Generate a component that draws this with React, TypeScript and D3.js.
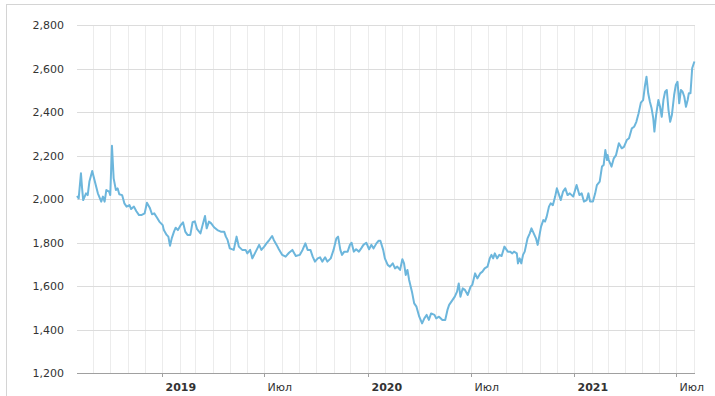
import React from 'react';
import * as d3 from 'd3';

const yTicks = [1200, 1400, 1600, 1800, 2000, 2200, 2400, 2600, 2800];
const tickDates = ['2019-01-01', '2019-07-01', '2020-01-01', '2020-07-01', '2021-01-01', '2021-07-01'];
const tickLabels = ['2019', 'Июл', '2020', 'Июл', '2021', 'Июл'];
const tickBold = [true, false, true, false, true, false];

const dates = [
  '2018-08-03','2018-08-06','2018-08-10','2018-08-12','2018-08-14','2018-08-19','2018-08-22','2018-08-25','2018-08-30',
  '2018-09-03','2018-09-09','2018-09-15','2018-09-18','2018-09-21','2018-09-24','2018-09-29',
  '2018-10-01','2018-10-04','2018-10-07','2018-10-11','2018-10-14','2018-10-17','2018-10-22','2018-10-26','2018-10-30',
  '2018-11-04','2018-11-07','2018-11-12','2018-11-16','2018-11-21','2018-11-25',
  '2018-12-01','2018-12-05','2018-12-10','2018-12-14','2018-12-18','2018-12-23','2018-12-27',
  '2019-01-02','2019-01-04','2019-01-09','2019-01-12','2019-01-15','2019-01-18','2019-01-22','2019-01-25','2019-01-29',
  '2019-02-03','2019-02-07','2019-02-11','2019-02-15','2019-02-20','2019-02-24','2019-02-28',
  '2019-03-04','2019-03-10','2019-03-13','2019-03-18','2019-03-21','2019-03-25','2019-03-29',
  '2019-04-03','2019-04-09','2019-04-15','2019-04-21','2019-04-24','2019-04-27',
  '2019-05-01','2019-05-08','2019-05-13','2019-05-17','2019-05-23','2019-05-29',
  '2019-06-01','2019-06-06','2019-06-10','2019-06-16','2019-06-22','2019-06-26',
  '2019-07-01','2019-07-05','2019-07-09','2019-07-15','2019-07-18','2019-07-23','2019-07-27',
  '2019-08-02','2019-08-08','2019-08-14','2019-08-20','2019-08-26',
  '2019-09-02','2019-09-07','2019-09-12','2019-09-16','2019-09-21','2019-09-25','2019-09-29',
  '2019-10-04','2019-10-08','2019-10-12','2019-10-17','2019-10-21','2019-10-27',
  '2019-11-01','2019-11-06','2019-11-09','2019-11-13','2019-11-16','2019-11-20','2019-11-26','2019-11-30',
  '2019-12-03','2019-12-07','2019-12-11','2019-12-16','2019-12-20','2019-12-24','2019-12-29',
  '2020-01-03','2020-01-07','2020-01-11','2020-01-16','2020-01-20','2020-01-23','2020-01-28','2020-01-31',
  '2020-02-05','2020-02-09','2020-02-14','2020-02-18','2020-02-22','2020-02-27',
  '2020-03-02','2020-03-05','2020-03-08','2020-03-11','2020-03-14','2020-03-19','2020-03-23','2020-03-27',
  '2020-04-01','2020-04-06','2020-04-10','2020-04-14','2020-04-18','2020-04-22','2020-04-28',
  '2020-05-01','2020-05-06','2020-05-12','2020-05-17','2020-05-21','2020-05-24','2020-05-28',
  '2020-06-03','2020-06-07','2020-06-10','2020-06-13','2020-06-17','2020-06-21','2020-06-26',
  '2020-07-01','2020-07-04','2020-07-09','2020-07-13','2020-07-18','2020-07-22','2020-07-26','2020-07-31',
  '2020-08-04','2020-08-07','2020-08-10','2020-08-13','2020-08-17','2020-08-21','2020-08-25','2020-08-30',
  '2020-09-05','2020-09-09','2020-09-13','2020-09-16','2020-09-21','2020-09-23','2020-09-26','2020-09-29',
  '2020-10-02','2020-10-05','2020-10-10','2020-10-14','2020-10-17','2020-10-21','2020-10-25','2020-10-28',
  '2020-11-03','2020-11-07','2020-11-10','2020-11-13','2020-11-17','2020-11-20','2020-11-24','2020-11-28',
  '2020-12-01','2020-12-04','2020-12-08','2020-12-12','2020-12-16','2020-12-20','2020-12-24','2020-12-30',
  '2021-01-05','2021-01-10','2021-01-14','2021-01-18','2021-01-23','2021-01-26','2021-01-29',
  '2021-02-03','2021-02-07','2021-02-10','2021-02-15','2021-02-19','2021-02-22','2021-02-25','2021-02-28',
  '2021-03-01','2021-03-03','2021-03-08','2021-03-12','2021-03-16','2021-03-21','2021-03-26','2021-03-30',
  '2021-04-04','2021-04-08','2021-04-13','2021-04-17','2021-04-21','2021-04-25','2021-04-29',
  '2021-05-03','2021-05-06','2021-05-09','2021-05-12','2021-05-15','2021-05-18','2021-05-21','2021-05-23','2021-05-26','2021-05-30',
  '2021-06-02','2021-06-05','2021-06-08','2021-06-11','2021-06-14','2021-06-17','2021-06-20','2021-06-23','2021-06-27','2021-06-30',
  '2021-07-03','2021-07-06','2021-07-09','2021-07-12','2021-07-15','2021-07-18','2021-07-21','2021-07-23','2021-07-26','2021-07-29',
  '2021-08-02',
];

const prices = [
  2014, 2003, 2118, 2050, 1995, 2026, 2018, 2080, 2129,
  2087, 2026, 1988, 2011, 1988, 2041, 2034,
  2018, 2245, 2095, 2041, 2049, 2022, 2018, 1980, 1965,
  1972, 1954, 1965, 1945, 1926, 1926,
  1934, 1983, 1960, 1930, 1934, 1914, 1896,
  1880, 1857, 1835, 1827, 1785, 1819, 1850, 1868, 1857,
  1880, 1893, 1850, 1835, 1835, 1893, 1897,
  1861, 1842, 1873, 1922, 1865, 1896, 1888,
  1870, 1857, 1850, 1850, 1827, 1812,
  1773, 1766, 1827, 1781, 1766, 1766,
  1750, 1766, 1727, 1758, 1789, 1766,
  1781, 1796, 1808, 1830, 1812, 1789, 1769,
  1743, 1735, 1753, 1766, 1738,
  1743, 1766, 1796, 1766, 1766, 1735, 1712,
  1727, 1732, 1712, 1732, 1712, 1727,
  1766, 1819, 1827, 1766, 1743, 1758, 1758, 1789,
  1799, 1758, 1769, 1758, 1773, 1789, 1799,
  1769, 1789, 1773, 1796, 1808, 1808, 1766, 1727,
  1697, 1689, 1704, 1681, 1689, 1674,
  1723, 1704, 1651, 1674, 1628, 1574, 1520, 1505,
  1459, 1428, 1451, 1467, 1444, 1474, 1467,
  1451, 1459, 1444, 1444, 1490, 1513, 1528,
  1551, 1574, 1612, 1551, 1589, 1582, 1559,
  1597, 1605, 1658, 1635, 1658, 1666, 1681, 1689,
  1727, 1743, 1727, 1750, 1727, 1743, 1738, 1781,
  1758, 1758, 1750, 1758, 1750, 1704, 1727, 1704,
  1743, 1758, 1819, 1842, 1865, 1842, 1819, 1789,
  1873, 1903, 1896, 1919, 1965, 1980, 1972, 2011,
  2049, 2026, 1995, 2034, 2049, 2018, 2026, 2011,
  2064, 2018, 2026, 1988, 1995, 2026, 1988,
  1988, 2026, 2064, 2080, 2149, 2156, 2225, 2179,
  2202, 2179, 2149, 2187, 2202, 2256, 2233, 2240,
  2271, 2279, 2325, 2332, 2355, 2394, 2443,
  2455, 2516, 2562, 2486, 2447, 2417, 2371, 2310, 2386, 2455,
  2424, 2378, 2455, 2493, 2501, 2409, 2355, 2386, 2478, 2524,
  2539, 2440, 2501, 2493, 2470, 2424, 2455, 2486, 2486, 2601,
  2632,
];

const W = 715;
const H = 396;
const FONT = '"DejaVu Sans", Verdana, sans-serif';

export default function App() {
  const parse = d3.utcParse('%Y-%m-%d');
  const x = d3.scaleUtc().domain([parse('2018-08-03')!, parse('2021-08-03')!]).range([77, 695]);
  const y = d3.scaleLinear().domain([1200, 2800]).range([373, 25]);
  const data = dates.map((d, i) => ({ date: parse(d)!, value: prices[i] }));
  const line = d3
    .line<{ date: Date; value: number }>()
    .x((d) => x(d.date))
    .y((d) => y(d.value));
  const months = d3.utcMonth.range(parse('2018-08-04')!, parse('2021-08-02')!);
  const fmt = d3.format(',');
  const [x0, x1] = x.range();
  const r = (v: number) => Math.round(v) + 0.5;

  return (
    <div style={{ position: 'absolute', left: 0, top: 0, width: W, height: H, overflow: 'hidden', background: '#fff' }}>
      <svg width={W} height={H} style={{ display: 'block' }}>
        <rect x={6.5} y={4.5} width={W + 20} height={H + 20} fill="#fff" stroke="#d4d4d4" />
        {months.map((m, i) => (
          <line key={'m' + i} x1={r(x(m))} x2={r(x(m))} y1={y(2800)} y2={y(1200)} stroke="#ececec" strokeWidth={1} />
        ))}
        {yTicks.map((t) => (
          <line key={'h' + t} x1={x0} x2={x1} y1={r(y(t))} y2={r(y(t))} stroke={t === 1200 ? '#a0a0a0' : '#dcdcdc'} strokeWidth={1} />
        ))}
        {yTicks.map((t) => (
          <text key={'yl' + t} x={64} y={y(t) + 4} textAnchor="end" fontFamily={FONT} fontSize={11} fill="#333">
            {fmt(t)}
          </text>
        ))}
        {tickDates.map((d, i) => {
          const tx = r(x(parse(d)!));
          return (
            <g key={'xt' + i}>
              <line x1={tx} x2={tx} y1={y(1200)} y2={y(1200) + 4} stroke="#a0a0a0" />
              <text
                x={tx + 3}
                y={391}
                textAnchor="start"
                fontFamily={FONT}
                fontSize={11}
                fontWeight={tickBold[i] ? 'bold' : 'normal'}
                fill="#333"
              >
                {tickLabels[i]}
              </text>
            </g>
          );
        })}
        <path d={line(data) || ''} fill="none" stroke="#6cb6dc" strokeWidth={2} strokeLinejoin="round" />
      </svg>
    </div>
  );
}
